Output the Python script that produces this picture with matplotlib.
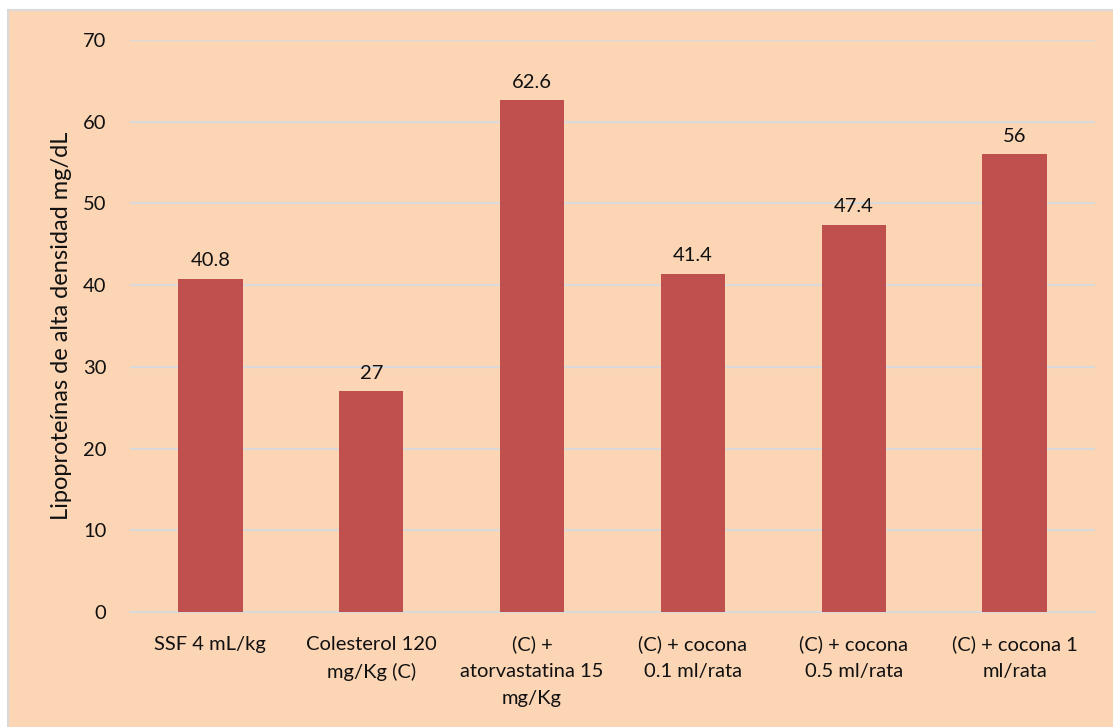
import matplotlib
matplotlib.use("Agg")
import matplotlib.pyplot as plt
from matplotlib.patches import Rectangle

plt.rcParams["font.family"] = ["Lato", "DejaVu Sans"]

categories = ["SSF 4 mL/kg", "Colesterol 120\nmg/Kg (C)", "(C) +\natorvastatina 15\nmg/Kg",
              "(C) + cocona\n0.1 ml/rata", "(C) + cocona\n0.5 ml/rata", "(C) + cocona 1\nml/rata"]
hdl = [40.8, 27, 62.6, 41.4, 47.4, 56]
value_labels = ["40.8", "27", "62.6", "41.4", "47.4", "56"]
yticks = [0, 10, 20, 30, 40, 50, 60, 70]

PEACH = "#FCD5B5"
BAR = "#C0504D"
GRID = "#D9D9D9"
TXT = "#111111"

fig = plt.figure(figsize=(11.13, 7.27), dpi=100)
fig.patch.set_facecolor("white")
# chart area background with thin grey frame
fig.patches.append(Rectangle((8 / 1113, -0.01), 1.02, 1 - 10 / 727 + 0.01, transform=fig.transFigure,
                             facecolor=PEACH, edgecolor=GRID, lw=1.5, zorder=-10))

ax = fig.add_axes([130 / 1113, 1 - 612 / 727, (1095 - 130) / 1113, (612 - 40) / 727])
ax.set_facecolor("none")
x = range(len(categories))
bars = ax.bar(x, hdl, width=0.4, color=BAR, zorder=3)
for b, lab in zip(bars, value_labels):
    ax.annotate(lab, (b.get_x() + b.get_width() / 2, b.get_height()), xytext=(0, 7),
                textcoords="offset points", ha="center", va="bottom", fontsize=14.5, color=TXT)

ax.set_ylim(0, 70)
ax.set_xlim(-0.5, len(categories) - 0.5)
ax.set_yticks(yticks)
ax.yaxis.grid(True, color=GRID, lw=1.5, zorder=0)
ax.set_axisbelow(True)
for sp in ["top", "right", "left"]:
    ax.spines[sp].set_visible(False)
ax.spines["bottom"].set_color(GRID)
ax.spines["bottom"].set_linewidth(1.5)
ax.tick_params(axis="both", length=0, labelsize=14.5, colors=TXT)
ax.tick_params(axis="y", pad=17)
ax.tick_params(axis="x", pad=17)
ax.set_xticks(list(x))
ax.set_xticklabels(categories, linespacing=1.7)
ax.set_ylabel("Lipoproteínas de alta densidad mg/dL", fontsize=17, color=TXT, labelpad=8)

fig.savefig("out.png", dpi=100)
